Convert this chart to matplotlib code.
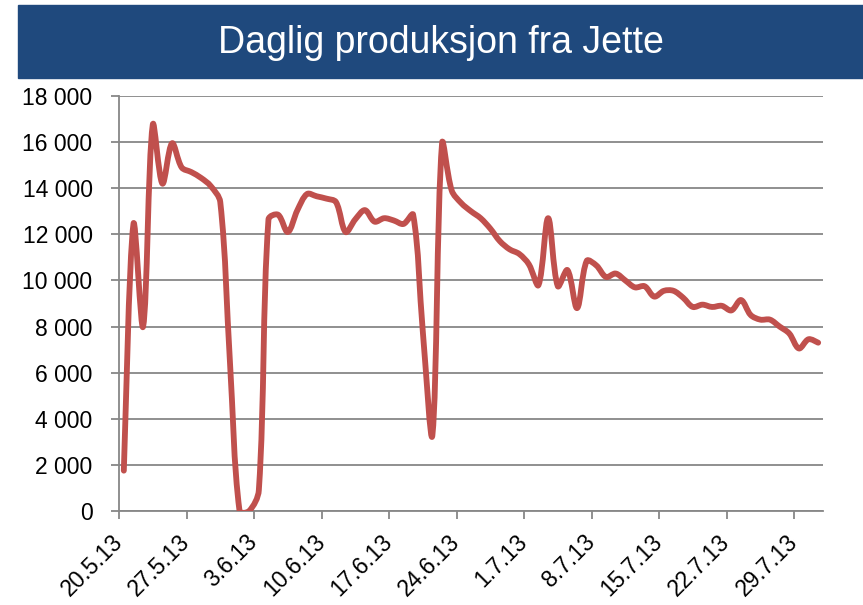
import numpy as np
import pandas as pd
import matplotlib
matplotlib.use("Agg")
import matplotlib.pyplot as plt
import matplotlib.transforms as mtransforms
from matplotlib.path import Path
from matplotlib.patches import PathPatch, Rectangle
from matplotlib import font_manager

# %% Data (daily production)
start_date = "2013-05-20"
production = [
    1750, 12450, 8000, 16750, 14200, 15950, 14900, 14700, 14450, 14100,
    13400, 6500, 0, 0, 900, 12650, 12850, 12100, 13050, 13750,
    13650, 13550, 13400, 12100, 12650, 13050, 12550, 12700, 12600, 12450,
    12850, 7800, 3300, 15950, 13900, 13350, 13000, 12700, 12250, 11700,
    11350, 11150, 10700, 9800, 12700, 9750, 10450, 8800, 10850, 10650,
    10150, 10300, 10000, 9700, 9750, 9300, 9550, 9550, 9250, 8850,
    8950, 8850, 8900, 8700, 9150, 8500, 8300, 8300, 8000, 7700,
    7050, 7450, 7300,
]
y_ticks = list(range(0, 18001, 2000))
tick_every = 7

dates = pd.date_range(start_date, periods=len(production), freq="D")
tick_pos = list(range(0, len(production), tick_every))
tick_labels = [f"{dates[i].day}.{dates[i].month}.13" for i in tick_pos]
y_labels = [f"{v:,}".replace(",", " ") for v in y_ticks]

# %% Style
line_color = "#C0504D"
grid_color = "#878787"
banner_color = "#1F497D"
families = {f.name for f in font_manager.fontManager.ttflist}
title_font = "Liberation Sans Narrow" if "Liberation Sans Narrow" in families else "Liberation Sans"
plt.rcParams["font.family"] = ["Liberation Sans", "DejaVu Sans"]

# plot area in pixels
AX_L, AX_R, AX_T, AX_B = 119, 823, 96, 511
Y_MAX = 18000


def smooth_path(xs, ys, sx, sy):
    """Smoothed line like Excel: Bezier segments whose handles are scaled
    by the neighbouring segment lengths (measured on screen)."""
    pts = np.column_stack([np.asarray(xs) * sx, np.asarray(ys) * sy]).astype(float)
    n = len(pts)
    d = np.hypot(*np.diff(pts, axis=0).T)
    verts = [pts[0]]
    codes = [Path.MOVETO]
    for k in range(n - 1):
        p0 = pts[k - 1] if k > 0 else pts[k]
        p1, p2 = pts[k], pts[k + 1]
        p3 = pts[k + 2] if k + 2 < n else pts[k + 1]
        d0 = d[k - 1] if k > 0 else d[k]
        d2 = d[k + 1] if k + 2 < n else d[k]
        c1 = p1 + (p2 - p0) * d[k] / (d0 + d[k]) / 3.0
        c2 = p2 - (p3 - p1) * d[k] / (d[k] + d2) / 3.0
        verts += [c1, c2, p2]
        codes += [Path.CURVE4] * 3
    verts = np.array(verts) / [sx, sy]
    return Path(verts, codes)


# %% Figure
fig = plt.figure(figsize=(8.63, 6.05), dpi=100)

# title banner
fig.patches.append(Rectangle((18 / 863, 1 - 78 / 605), 1 - 18 / 863, 73 / 605,
                             transform=fig.transFigure, color=banner_color, zorder=0))
fig.text(441 / 863, 1 - 43 / 605, "Daglig produksjon fra Jette", color="white",
         fontsize=27, family=title_font, ha="center", va="center")

ax = fig.add_axes([AX_L / 863, 1 - AX_B / 605, (AX_R - AX_L) / 863, (AX_B - AX_T) / 605])

n_days = len(production)
x = np.arange(n_days) + 0.5
sx = (AX_R - AX_L) / n_days
sy = (AX_B - AX_T) / Y_MAX
ax.add_patch(PathPatch(smooth_path(x, production, sx, sy), fill=False,
                       edgecolor=line_color, lw=4.2, capstyle="round",
                       joinstyle="round", zorder=3))

ax.set_xlim(0, n_days)
ax.set_ylim(0, Y_MAX)
ax.set_yticks(y_ticks)
ax.set_yticklabels(y_labels, fontsize=16.5)
ax.set_xticks(tick_pos)
ax.set_xticklabels(tick_labels, fontsize=16.5, rotation=45, ha="right",
                   va="center", rotation_mode="anchor")
shift = mtransforms.ScaledTranslation(3 / 100, 0, fig.dpi_scale_trans)
for lbl in ax.get_xticklabels():
    lbl.set_transform(lbl.get_transform() + shift)

ax.grid(axis="y", color=grid_color, lw=1.3)
ax.set_axisbelow(True)
for s in ["top", "right"]:
    ax.spines[s].set_visible(False)
for s in ["left", "bottom"]:
    ax.spines[s].set_color(grid_color)
    ax.spines[s].set_linewidth(1.3)
ax.tick_params(axis="both", direction="out", color=grid_color, width=1.3, length=6)
ax.tick_params(axis="y", pad=13)
ax.tick_params(axis="x", pad=14)

fig.savefig("out.png", dpi=100)
